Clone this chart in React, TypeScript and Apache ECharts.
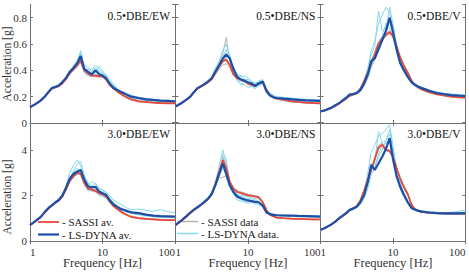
import React, { useEffect, useRef } from "react";
import * as echarts from "echarts";

// Frequency grid shared by every spectrum [Hz]
const FREQ = [1, 1.2, 1.4, 1.6, 1.8, 2, 2.25, 2.5, 2.8, 3.15, 3.55, 4, 4.5, 5, 5.6, 6.3, 7.1, 8, 9, 10, 11.2, 12.5, 14, 16, 18, 20, 22.5, 25, 31.5, 40, 50, 63, 80, 100];

const X_TICKS = ["1", "10", "100"];
const PANEL_TITLES = ["0.5•DBE/EW", "0.5•DBE/NS", "0.5•DBE/V", "3.0•DBE/EW", "3.0•DBE/NS", "3.0•DBE/V"];

// ---- 0.5•DBE / EW ----
const ew05SassiAv = [0.12, 0.145, 0.17, 0.2, 0.235, 0.26, 0.27, 0.28, 0.3, 0.335, 0.38, 0.41, 0.44, 0.475, 0.4, 0.375, 0.36, 0.36, 0.355, 0.355, 0.33, 0.29, 0.265, 0.24, 0.22, 0.205, 0.19, 0.18, 0.165, 0.16, 0.155, 0.152, 0.15, 0.15];
const ew05DynaAv = [0.12, 0.145, 0.17, 0.2, 0.235, 0.265, 0.275, 0.285, 0.31, 0.345, 0.39, 0.42, 0.455, 0.51, 0.41, 0.39, 0.37, 0.4, 0.37, 0.36, 0.34, 0.3, 0.27, 0.25, 0.235, 0.225, 0.21, 0.2, 0.19, 0.18, 0.175, 0.17, 0.168, 0.165];
const ew05Sassi = [
  [0.12, 0.145, 0.17, 0.2, 0.235, 0.26, 0.27, 0.28, 0.3, 0.33, 0.37, 0.4, 0.43, 0.46, 0.39, 0.37, 0.355, 0.35, 0.35, 0.35, 0.33, 0.29, 0.27, 0.245, 0.225, 0.21, 0.195, 0.185, 0.17, 0.16, 0.155, 0.15, 0.148, 0.147],
  [0.12, 0.145, 0.17, 0.2, 0.235, 0.26, 0.27, 0.28, 0.3, 0.34, 0.39, 0.42, 0.45, 0.49, 0.41, 0.38, 0.365, 0.37, 0.36, 0.36, 0.335, 0.3, 0.26, 0.235, 0.215, 0.2, 0.185, 0.175, 0.162, 0.155, 0.152, 0.15, 0.149, 0.148],
];
const ew05Dyna = [
  [0.12, 0.145, 0.17, 0.2, 0.23, 0.26, 0.27, 0.28, 0.3, 0.34, 0.4, 0.43, 0.47, 0.55, 0.44, 0.42, 0.4, 0.44, 0.41, 0.38, 0.37, 0.33, 0.29, 0.26, 0.24, 0.225, 0.21, 0.2, 0.19, 0.18, 0.175, 0.17, 0.168, 0.165],
  [0.12, 0.14, 0.165, 0.195, 0.23, 0.26, 0.275, 0.29, 0.32, 0.35, 0.38, 0.44, 0.48, 0.53, 0.42, 0.38, 0.36, 0.38, 0.43, 0.4, 0.35, 0.31, 0.28, 0.25, 0.24, 0.23, 0.22, 0.21, 0.195, 0.185, 0.18, 0.175, 0.172, 0.17],
  [0.12, 0.145, 0.17, 0.2, 0.235, 0.265, 0.28, 0.29, 0.31, 0.34, 0.4, 0.42, 0.44, 0.5, 0.4, 0.41, 0.39, 0.42, 0.39, 0.37, 0.36, 0.32, 0.3, 0.26, 0.24, 0.22, 0.205, 0.195, 0.185, 0.178, 0.172, 0.168, 0.165, 0.163],
  [0.12, 0.145, 0.17, 0.2, 0.24, 0.27, 0.28, 0.285, 0.3, 0.33, 0.37, 0.4, 0.46, 0.48, 0.38, 0.36, 0.35, 0.37, 0.35, 0.35, 0.34, 0.31, 0.27, 0.24, 0.22, 0.21, 0.2, 0.19, 0.18, 0.17, 0.165, 0.16, 0.158, 0.155],
];

// ---- 0.5•DBE / NS ----
const ns05SassiAv = [0.125, 0.15, 0.175, 0.2, 0.235, 0.26, 0.275, 0.29, 0.31, 0.33, 0.38, 0.43, 0.47, 0.48, 0.44, 0.37, 0.34, 0.33, 0.32, 0.3, 0.29, 0.285, 0.3, 0.31, 0.25, 0.215, 0.195, 0.185, 0.175, 0.165, 0.16, 0.155, 0.152, 0.15];
const ns05DynaAv = [0.125, 0.15, 0.175, 0.2, 0.235, 0.265, 0.28, 0.295, 0.315, 0.34, 0.39, 0.44, 0.49, 0.52, 0.49, 0.41, 0.35, 0.33, 0.32, 0.31, 0.3, 0.28, 0.3, 0.315, 0.24, 0.21, 0.195, 0.19, 0.185, 0.18, 0.175, 0.172, 0.17, 0.168];
const ns05Sassi = [
  [0.125, 0.15, 0.175, 0.2, 0.235, 0.26, 0.275, 0.29, 0.31, 0.34, 0.39, 0.45, 0.53, 0.65, 0.48, 0.38, 0.34, 0.33, 0.32, 0.3, 0.29, 0.28, 0.3, 0.31, 0.24, 0.21, 0.19, 0.18, 0.17, 0.16, 0.155, 0.15, 0.148, 0.146],
  [0.125, 0.15, 0.175, 0.2, 0.235, 0.26, 0.275, 0.29, 0.305, 0.33, 0.37, 0.41, 0.44, 0.45, 0.42, 0.36, 0.33, 0.32, 0.31, 0.29, 0.285, 0.28, 0.29, 0.3, 0.245, 0.215, 0.195, 0.185, 0.172, 0.162, 0.157, 0.153, 0.15, 0.148],
];
const ns05Dyna = [
  [0.125, 0.15, 0.175, 0.2, 0.235, 0.26, 0.28, 0.3, 0.32, 0.35, 0.42, 0.47, 0.55, 0.6, 0.5, 0.42, 0.37, 0.36, 0.33, 0.33, 0.31, 0.3, 0.32, 0.33, 0.25, 0.22, 0.2, 0.195, 0.19, 0.185, 0.18, 0.175, 0.172, 0.17],
  [0.125, 0.15, 0.175, 0.2, 0.23, 0.26, 0.275, 0.29, 0.31, 0.33, 0.37, 0.42, 0.46, 0.5, 0.52, 0.4, 0.33, 0.3, 0.29, 0.27, 0.28, 0.26, 0.28, 0.3, 0.23, 0.2, 0.19, 0.185, 0.18, 0.178, 0.175, 0.17, 0.168, 0.165],
  [0.125, 0.15, 0.175, 0.2, 0.235, 0.265, 0.28, 0.3, 0.32, 0.34, 0.4, 0.45, 0.5, 0.56, 0.47, 0.43, 0.36, 0.35, 0.36, 0.34, 0.32, 0.3, 0.31, 0.32, 0.26, 0.23, 0.21, 0.2, 0.195, 0.19, 0.185, 0.18, 0.178, 0.175],
  [0.125, 0.15, 0.175, 0.2, 0.235, 0.265, 0.28, 0.295, 0.31, 0.34, 0.39, 0.43, 0.47, 0.49, 0.45, 0.38, 0.32, 0.29, 0.31, 0.3, 0.29, 0.27, 0.29, 0.31, 0.24, 0.21, 0.195, 0.19, 0.18, 0.175, 0.17, 0.168, 0.165, 0.163],
];

// ---- 0.5•DBE / V ----
const v05SassiAv = [0.087, 0.1, 0.115, 0.13, 0.148, 0.165, 0.185, 0.205, 0.215, 0.225, 0.26, 0.32, 0.38, 0.45, 0.52, 0.6, 0.64, 0.67, 0.69, 0.66, 0.58, 0.5, 0.44, 0.38, 0.32, 0.29, 0.27, 0.255, 0.235, 0.22, 0.21, 0.2, 0.195, 0.193];
const v05DynaAv = [0.087, 0.1, 0.115, 0.135, 0.15, 0.17, 0.19, 0.215, 0.22, 0.227, 0.25, 0.3, 0.37, 0.47, 0.49, 0.56, 0.63, 0.7, 0.8, 0.69, 0.56, 0.46, 0.405, 0.35, 0.31, 0.29, 0.275, 0.265, 0.245, 0.228, 0.22, 0.212, 0.208, 0.205];
const v05Sassi = [
  [0.087, 0.1, 0.115, 0.13, 0.148, 0.165, 0.185, 0.205, 0.215, 0.225, 0.26, 0.31, 0.36, 0.43, 0.5, 0.58, 0.62, 0.66, 0.68, 0.65, 0.57, 0.49, 0.43, 0.37, 0.31, 0.285, 0.265, 0.25, 0.23, 0.215, 0.205, 0.198, 0.193, 0.19],
  [0.087, 0.1, 0.115, 0.13, 0.148, 0.165, 0.185, 0.205, 0.215, 0.225, 0.26, 0.33, 0.4, 0.47, 0.54, 0.62, 0.66, 0.68, 0.7, 0.67, 0.59, 0.51, 0.45, 0.39, 0.33, 0.295, 0.275, 0.26, 0.24, 0.225, 0.215, 0.205, 0.2, 0.197],
];
const v05Dyna = [
  [0.087, 0.1, 0.115, 0.13, 0.15, 0.17, 0.19, 0.21, 0.22, 0.23, 0.26, 0.3, 0.4, 0.55, 0.62, 0.75, 0.82, 0.88, 0.84, 0.7, 0.55, 0.45, 0.4, 0.35, 0.31, 0.29, 0.28, 0.27, 0.25, 0.235, 0.225, 0.218, 0.213, 0.21],
  [0.087, 0.1, 0.115, 0.135, 0.155, 0.175, 0.2, 0.22, 0.225, 0.235, 0.27, 0.32, 0.42, 0.52, 0.58, 0.85, 0.7, 0.72, 0.88, 0.75, 0.6, 0.48, 0.42, 0.36, 0.32, 0.295, 0.28, 0.27, 0.25, 0.235, 0.225, 0.22, 0.215, 0.212],
  [0.087, 0.1, 0.115, 0.13, 0.145, 0.16, 0.18, 0.2, 0.21, 0.22, 0.24, 0.28, 0.34, 0.42, 0.48, 0.55, 0.62, 0.72, 0.78, 0.74, 0.58, 0.47, 0.42, 0.37, 0.32, 0.3, 0.28, 0.265, 0.245, 0.23, 0.22, 0.21, 0.205, 0.2],
  [0.087, 0.1, 0.115, 0.135, 0.15, 0.17, 0.195, 0.215, 0.22, 0.225, 0.25, 0.3, 0.36, 0.46, 0.52, 0.6, 0.66, 0.76, 0.72, 0.65, 0.54, 0.45, 0.39, 0.34, 0.3, 0.28, 0.265, 0.255, 0.238, 0.225, 0.218, 0.21, 0.205, 0.203],
];

// ---- 3.0•DBE / EW ----
const ew30SassiAv = [0.7, 0.88, 1.05, 1.25, 1.42, 1.55, 1.68, 1.78, 1.95, 2.28, 2.65, 2.85, 3.0, 2.95, 2.55, 2.3, 2.25, 2.2, 2.1, 2.05, 1.95, 1.75, 1.55, 1.4, 1.28, 1.2, 1.12, 1.06, 1.0, 0.97, 0.95, 0.93, 0.92, 0.92];
const ew30DynaAv = [0.7, 0.88, 1.05, 1.28, 1.45, 1.56, 1.7, 1.8, 2.0, 2.35, 2.75, 2.95, 3.05, 3.12, 2.7, 2.4, 2.35, 2.38, 2.17, 2.1, 2.02, 1.8, 1.62, 1.5, 1.4, 1.36, 1.3, 1.26, 1.22, 1.16, 1.11, 1.09, 1.08, 1.07];
const ew30Sassi = [
  [0.7, 0.88, 1.05, 1.25, 1.42, 1.55, 1.68, 1.78, 1.95, 2.25, 2.6, 2.8, 2.95, 2.9, 2.5, 2.25, 2.2, 2.15, 2.05, 2.0, 1.9, 1.7, 1.52, 1.38, 1.26, 1.18, 1.1, 1.04, 0.98, 0.95, 0.93, 0.92, 0.91, 0.9],
  [0.7, 0.88, 1.05, 1.25, 1.42, 1.55, 1.68, 1.78, 1.96, 2.3, 2.7, 2.9, 3.05, 3.0, 2.6, 2.35, 2.3, 2.25, 2.15, 2.1, 2.0, 1.8, 1.58, 1.42, 1.3, 1.22, 1.14, 1.08, 1.02, 0.99, 0.97, 0.95, 0.94, 0.93],
];
const ew30Dyna = [
  [0.7, 0.88, 1.05, 1.27, 1.45, 1.58, 1.72, 1.85, 2.05, 2.45, 3.0, 3.35, 3.55, 3.3, 2.8, 2.45, 2.6, 2.5, 2.3, 2.2, 2.1, 1.9, 1.7, 1.55, 1.45, 1.38, 1.32, 1.28, 1.22, 1.16, 1.12, 1.1, 1.08, 1.07],
  [0.7, 0.88, 1.05, 1.3, 1.48, 1.6, 1.75, 1.85, 2.02, 2.3, 2.7, 3.1, 3.4, 3.5, 2.9, 2.55, 2.4, 2.55, 2.3, 2.25, 2.15, 2.0, 1.8, 1.7, 1.6, 1.52, 1.42, 1.38, 1.4, 1.35, 1.3, 1.38, 1.28, 1.25],
  [0.7, 0.88, 1.05, 1.26, 1.43, 1.55, 1.68, 1.78, 1.98, 2.3, 2.6, 2.85, 2.9, 3.15, 2.6, 2.2, 2.25, 2.2, 2.0, 1.95, 1.9, 1.7, 1.55, 1.45, 1.35, 1.3, 1.25, 1.2, 1.15, 1.1, 1.06, 1.04, 1.03, 1.02],
  [0.7, 0.88, 1.05, 1.28, 1.46, 1.57, 1.7, 1.8, 2.0, 2.4, 2.8, 3.0, 3.2, 2.95, 2.7, 2.3, 2.2, 2.3, 2.1, 2.1, 2.05, 1.82, 1.65, 1.5, 1.4, 1.33, 1.27, 1.23, 1.18, 1.12, 1.08, 1.06, 1.05, 1.05],
];

// ---- 3.0•DBE / NS ----
const ns30SassiAv = [0.7, 0.88, 1.05, 1.22, 1.36, 1.46, 1.58, 1.7, 1.83, 2.05, 2.5, 3.05, 3.55, 3.2, 2.6, 2.3, 2.15, 2.1, 2.05, 2.0, 1.98, 1.95, 1.92, 1.7, 1.35, 1.15, 1.08, 1.03, 1.0, 0.98, 0.97, 0.96, 0.95, 0.95];
const ns30DynaAv = [0.7, 0.9, 1.08, 1.25, 1.38, 1.48, 1.6, 1.72, 1.85, 2.05, 2.45, 2.95, 3.4, 2.95, 2.45, 2.15, 1.95, 1.88, 1.82, 1.78, 1.75, 1.72, 1.7, 1.55, 1.25, 1.18, 1.15, 1.13, 1.12, 1.11, 1.1, 1.09, 1.08, 1.07];
const ns30Sassi = [
  [0.7, 0.88, 1.05, 1.22, 1.36, 1.46, 1.58, 1.7, 1.83, 2.05, 2.5, 2.95, 3.7, 3.3, 2.6, 2.35, 2.2, 2.15, 2.1, 2.05, 2.0, 1.98, 1.95, 1.72, 1.36, 1.14, 1.06, 1.01, 0.98, 0.96, 0.95, 0.94, 0.93, 0.93],
  [0.7, 0.88, 1.05, 1.22, 1.36, 1.46, 1.58, 1.7, 1.83, 2.05, 2.45, 2.75, 2.8, 2.85, 2.55, 2.35, 2.2, 2.15, 2.1, 2.05, 2.02, 2.0, 1.95, 1.72, 1.38, 1.16, 1.08, 1.03, 1.0, 0.98, 0.97, 0.96, 0.95, 0.95],
];
const ns30Dyna = [
  [0.7, 0.9, 1.08, 1.25, 1.4, 1.5, 1.62, 1.75, 1.9, 2.15, 2.6, 3.3, 4.0, 3.4, 2.6, 2.2, 2.0, 1.95, 1.9, 1.85, 1.85, 1.8, 1.75, 1.6, 1.3, 1.2, 1.16, 1.14, 1.12, 1.11, 1.1, 1.09, 1.08, 1.08],
  [0.7, 0.9, 1.08, 1.26, 1.4, 1.5, 1.62, 1.74, 1.88, 2.1, 2.5, 3.0, 3.8, 3.6, 2.5, 2.1, 1.8, 1.75, 1.7, 1.65, 1.7, 1.62, 1.6, 1.48, 1.22, 1.15, 1.12, 1.1, 1.08, 1.07, 1.06, 1.06, 1.05, 1.05],
  [0.7, 0.88, 1.06, 1.24, 1.37, 1.47, 1.58, 1.7, 1.82, 2.0, 2.4, 2.8, 3.2, 2.9, 2.4, 2.2, 2.05, 2.0, 1.98, 1.95, 1.9, 1.85, 1.85, 1.65, 1.32, 1.22, 1.18, 1.16, 1.14, 1.12, 1.11, 1.1, 1.09, 1.09],
  [0.7, 0.9, 1.08, 1.25, 1.38, 1.49, 1.6, 1.72, 1.86, 2.05, 2.45, 2.9, 3.5, 2.8, 2.35, 2.05, 1.9, 1.82, 1.75, 1.72, 1.72, 1.68, 1.68, 1.52, 1.24, 1.16, 1.14, 1.12, 1.12, 1.12, 1.11, 1.1, 1.1, 1.1],
];

// ---- 3.0•DBE / V ----
const v30SassiAv = [0.48, 0.6, 0.72, 0.84, 0.98, 1.08, 1.2, 1.34, 1.42, 1.52, 1.78, 2.2, 2.7, 3.1, 3.6, 4.1, 4.22, 4.0, 3.95, 3.7, 3.2, 2.75, 2.4, 2.05, 1.6, 1.4, 1.32, 1.28, 1.24, 1.22, 1.21, 1.2, 1.2, 1.19];
const v30DynaAv = [0.48, 0.6, 0.72, 0.85, 1.0, 1.1, 1.22, 1.36, 1.42, 1.5, 1.7, 2.02, 2.6, 3.34, 3.12, 3.4, 3.7, 4.05, 4.51, 3.6, 2.85, 2.4, 2.05, 1.7, 1.45, 1.38, 1.32, 1.29, 1.25, 1.22, 1.21, 1.21, 1.21, 1.22];
const v30Sassi = [
  [0.48, 0.6, 0.72, 0.84, 0.98, 1.08, 1.2, 1.34, 1.42, 1.52, 1.75, 2.15, 2.65, 3.05, 3.55, 4.0, 4.15, 3.95, 3.9, 3.65, 3.15, 2.7, 2.35, 2.0, 1.58, 1.38, 1.3, 1.26, 1.22, 1.2, 1.19, 1.18, 1.18, 1.18],
  [0.48, 0.6, 0.72, 0.84, 0.98, 1.08, 1.2, 1.34, 1.42, 1.52, 1.8, 2.25, 2.75, 3.15, 3.65, 4.2, 4.3, 4.05, 4.0, 3.75, 3.25, 2.8, 2.45, 2.1, 1.62, 1.42, 1.34, 1.3, 1.26, 1.24, 1.23, 1.22, 1.21, 1.2],
];
const v30Dyna = [
  [0.48, 0.6, 0.72, 0.85, 1.0, 1.1, 1.22, 1.38, 1.45, 1.55, 1.8, 2.2, 3.0, 3.9, 4.2, 4.6, 4.7, 4.9, 5.1, 4.2, 3.2, 2.6, 2.15, 1.75, 1.5, 1.42, 1.36, 1.32, 1.28, 1.26, 1.25, 1.26, 1.3, 1.35],
  [0.48, 0.6, 0.72, 0.86, 1.02, 1.12, 1.24, 1.4, 1.46, 1.52, 1.72, 2.0, 2.5, 3.2, 3.5, 4.8, 4.3, 4.4, 4.9, 4.0, 3.0, 2.5, 2.1, 1.72, 1.48, 1.4, 1.35, 1.31, 1.27, 1.25, 1.24, 1.24, 1.25, 1.26],
  [0.48, 0.6, 0.72, 0.84, 0.97, 1.06, 1.18, 1.3, 1.38, 1.46, 1.6, 1.85, 2.3, 2.9, 3.2, 3.7, 4.0, 4.4, 4.7, 3.9, 3.0, 2.4, 2.0, 1.68, 1.45, 1.36, 1.3, 1.27, 1.23, 1.21, 1.2, 1.2, 1.2, 1.2],
  [0.48, 0.6, 0.72, 0.85, 1.0, 1.1, 1.22, 1.36, 1.42, 1.5, 1.7, 2.05, 2.6, 3.4, 3.3, 3.8, 4.2, 4.3, 4.4, 3.5, 2.8, 2.3, 1.95, 1.62, 1.4, 1.34, 1.3, 1.26, 1.22, 1.2, 1.19, 1.18, 1.18, 1.18],
];

const PANELS = [
  { sassiAv: ew05SassiAv, dynaAv: ew05DynaAv, sassi: ew05Sassi, dyna: ew05Dyna },
  { sassiAv: ns05SassiAv, dynaAv: ns05DynaAv, sassi: ns05Sassi, dyna: ns05Dyna },
  { sassiAv: v05SassiAv, dynaAv: v05DynaAv, sassi: v05Sassi, dyna: v05Dyna },
  { sassiAv: ew30SassiAv, dynaAv: ew30DynaAv, sassi: ew30Sassi, dyna: ew30Dyna },
  { sassiAv: ns30SassiAv, dynaAv: ns30DynaAv, sassi: ns30Sassi, dyna: ns30Dyna },
  { sassiAv: v30SassiAv, dynaAv: v30DynaAv, sassi: v30Sassi, dyna: v30Dyna },
];

const ROW_Y = [
  { max: 0.9, interval: 0.2 },
  { max: 5.2, interval: 2 },
];

const COL_LEFT = [30, 175.5, 320.5];
const ROW_TOP = [4.5, 122.5];
const CELL_W = 145;
const CELL_H = 118.5;

const FONT = "Liberation Serif, serif";
const C_SASSI_AV = "#e8483a";
const C_DYNA_AV = "#1f4ea6";
const C_SASSI = "#b4b4b4";
const C_DYNA = "#86d8ea";
const C_AXIS = "#707070";
const C_TEXT = "#333333";

const toPairs = (vals: number[]) => FREQ.map((f, i) => [f, vals[i]]);

export default function App() {
  const ref = useRef<HTMLDivElement>(null);

  useEffect(() => {
    if (!ref.current) return;
    const chart = echarts.init(ref.current, null, { renderer: "svg" });

    const grid: any[] = [];
    const xAxis: any[] = [];
    const yAxis: any[] = [];
    const series: any[] = [];
    const graphic: any[] = [];

    PANELS.forEach((p, k) => {
      const row = Math.floor(k / 3);
      const col = k % 3;
      grid.push({ left: COL_LEFT[col], top: ROW_TOP[row], width: CELL_W, height: CELL_H });

      const axisLine = { show: true, lineStyle: { color: C_AXIS, width: 1 } };
      const tick = { show: true, inside: true, length: 3, lineStyle: { color: C_AXIS } };
      const xBase = { type: "log", logBase: 10, min: 1, max: 100, gridIndex: k, splitLine: { show: false }, minorTick: { show: false }, axisLine, axisTick: tick };
      xAxis.push({
        ...xBase,
        position: "bottom",
        axisLabel: {
          show: row === 1,
          margin: 5,
          fontFamily: FONT,
          fontSize: 11,
          color: C_TEXT,
          alignMinLabel: "left",
          alignMaxLabel: "right",
          formatter: (v: number) => X_TICKS[Math.round(Math.log10(v))] ?? "",
        },
      });
      xAxis.push({ ...xBase, position: "top", axisLabel: { show: false } });

      const yr = ROW_Y[row];
      const yBase = { type: "value", min: 0, max: yr.max, interval: yr.interval, gridIndex: k, splitLine: { show: false }, axisLine, axisTick: tick };
      yAxis.push({
        ...yBase,
        position: "left",
        axisLabel: { show: col === 0, margin: 3, fontFamily: FONT, fontSize: 11, color: C_TEXT, showMaxLabel: false },
      });
      yAxis.push({ ...yBase, position: "right", axisLabel: { show: false } });

      const xi = k * 2;
      const yi = k * 2;
      const line = (name: string, vals: number[], color: string, width: number, z: number) => ({
        type: "line",
        name,
        xAxisIndex: xi,
        yAxisIndex: yi,
        data: toPairs(vals),
        showSymbol: false,
        symbol: "none",
        lineStyle: { color, width },
        z,
        silent: true,
      });
      p.sassi.forEach((v) => series.push(line("SASSI data", v, C_SASSI, 1, 2)));
      p.dyna.forEach((v) => series.push(line("LS-DYNA data.", v, C_DYNA, 1, 3)));
      series.push(line("SASSI av.", p.sassiAv, C_SASSI_AV, 1.8, 4));
      series.push(line("LS-DYNA av.", p.dynaAv, C_DYNA_AV, 2.2, 5));

      graphic.push({
        type: "text",
        x: COL_LEFT[col] + CELL_W - 5,
        y: ROW_TOP[row] + 11,
        style: { text: PANEL_TITLES[k], fontFamily: FONT, fontSize: 11.5, fill: "#111", align: "right", verticalAlign: "middle" },
      });
    });

    // axis titles
    [64, 197].forEach((cy) =>
      graphic.push({
        type: "text",
        x: 6.5,
        y: cy,
        rotation: Math.PI / 2,
        style: { text: "Acceleration [g]", fontFamily: FONT, fontSize: 11.5, fill: C_TEXT, align: "center", verticalAlign: "middle" },
      })
    );
    COL_LEFT.forEach((l) =>
      graphic.push({
        type: "text",
        x: l + CELL_W / 2,
        y: 263,
        style: { text: "Frequency [Hz]", fontFamily: FONT, fontSize: 12.5, fill: C_TEXT, align: "center", verticalAlign: "middle" },
      })
    );

    // legend keys
    const key = (x1: number, x2: number, y: number, color: string, w: number, label: string) => {
      graphic.push({ type: "line", shape: { x1, y1: y, x2, y2: y }, style: { stroke: color, lineWidth: w } });
      graphic.push({
        type: "text",
        x: x2 + 3,
        y,
        style: { text: label, fontFamily: FONT, fontSize: 11, fill: "#222", verticalAlign: "middle" },
      });
    };
    key(38, 59, 222, C_SASSI_AV, 1.8, "- SASSI av.");
    key(38, 59, 234.5, C_DYNA_AV, 2.2, "- LS-DYNA av.");
    key(177, 198, 221.5, C_SASSI, 1.5, "- SASSI data");
    key(177, 198, 233.5, C_DYNA, 1.5, "- LS-DYNA data.");

    chart.setOption({
      animation: false,
      backgroundColor: "#ffffff",
      grid,
      xAxis,
      yAxis,
      series,
      graphic,
    });

    return () => chart.dispose();
  }, []);

  return <div ref={ref} style={{ width: 469, height: 273, position: "absolute", left: 0, top: 0 }} />;
}
